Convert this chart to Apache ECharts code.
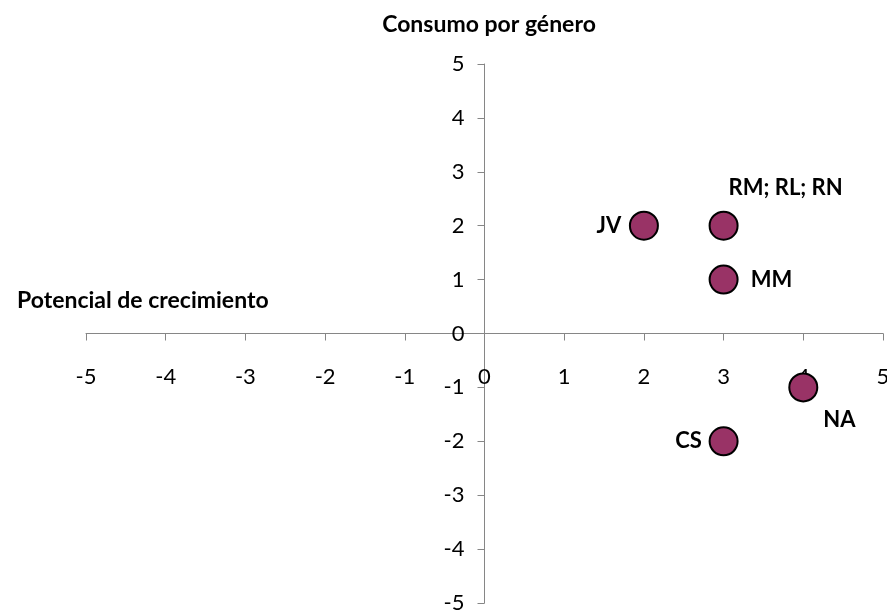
<!DOCTYPE html>
<html>
<head>
<meta charset="utf-8">
<script src="https://cdn.jsdelivr.net/npm/echarts@6/dist/echarts.min.js"></script>
<style>
html,body{margin:0;padding:0;background:#fff;}
#c{width:887px;height:616px;}
</style>
</head>
<body>
<div id="c"></div>
<script>
const names = ['JV', 'RM; RL; RN', 'MM', 'NA', 'CS'];
const xValues = [2, 3, 3, 4, 3];
const yValues = [2, 2, 1, -1, -2];
const xTicks = [-5, -4, -3, -2, -1, 0, 1, 2, 3, 4, 5];
const yTicks = [-5, -4, -3, -2, -1, 0, 1, 2, 3, 4, 5];

const FONT = 'Lato';
const labelOffsets = {
  'JV': [-35, 0],
  'RM; RL; RN': [62, -38],
  'MM': [48, 0],
  'NA': [36, 33],
  'CS': [-35, 0]
};

const data = names.map((n, i) => ({
  name: n,
  value: [xValues[i], yValues[i]],
  label: { offset: labelOffsets[n] }
}));

const W = 887, H = 616;
const G = { left: 86, right: 4, top: 64, bottom: 13 };
const gw = W - G.left - G.right, gh = H - G.top - G.bottom;

const chart = echarts.init(document.getElementById('c'));
const axisCommon = {
  type: 'value',
  interval: 1,
  splitLine: { show: false },
  axisLine: { show: true, onZero: false, lineStyle: { color: '#868686', width: 1 } },
  axisTick: { show: true, length: 7, lineStyle: { color: '#868686' } },
  axisLabel: { color: '#000', fontFamily: FONT, fontSize: 22 }
};
chart.setOption({
  animation: false,
  backgroundColor: '#fff',
  title: [
    { text: 'Consumo por género', left: 484, top: 8, textAlign: 'center',
      textStyle: { fontFamily: FONT, fontWeight: 'bold', fontSize: 23, color: '#000' } },
    { text: 'Potencial de crecimiento', left: 12, top: 284,
      textStyle: { fontFamily: FONT, fontWeight: 'bold', fontSize: 23, color: '#000' } }
  ],
  grid: Object.assign({ containLabel: false, outerBoundsMode: 'none' }, G),
  xAxis: Object.assign({}, axisCommon, {
    min: xTicks[0], max: xTicks[xTicks.length - 1],
    position: 'bottom',
    offset: -gh * (0 - yTicks[0]) / (yTicks[yTicks.length - 1] - yTicks[0]),
    axisLabel: Object.assign({}, axisCommon.axisLabel, { margin: 32 })
  }),
  yAxis: Object.assign({}, axisCommon, {
    min: yTicks[0], max: yTicks[yTicks.length - 1],
    position: 'left',
    offset: -gw * (0 - xTicks[0]) / (xTicks[xTicks.length - 1] - xTicks[0]),
    axisLabel: Object.assign({}, axisCommon.axisLabel, { margin: 20 })
  }),
  series: [{
    type: 'scatter',
    symbol: 'circle',
    symbolSize: 28,
    itemStyle: { color: '#993366', borderColor: '#000', borderWidth: 2, opacity: 1 },
    label: {
      show: true,
      position: 'inside',
      formatter: p => p.name,
      color: '#000',
      fontFamily: FONT,
      fontWeight: 'bold',
      fontSize: 22
    },
    data: data
  }]
});
</script>
</body>
</html>
